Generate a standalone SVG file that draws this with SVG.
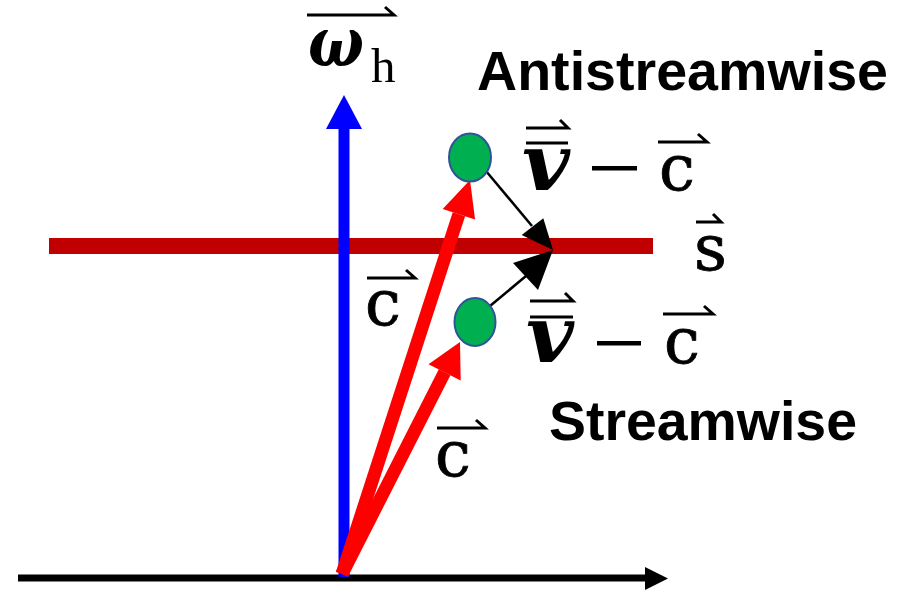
<svg xmlns="http://www.w3.org/2000/svg" width="903" height="591" viewBox="0 0 903 591">
<style>
.lbl{font-family:"Liberation Sans",Arial,sans-serif;font-weight:bold;font-size:55px;fill:#000}
.m{font-family:"DejaVu Serif","Liberation Serif",serif;font-size:64px;fill:#000;stroke:#000;stroke-width:0.8}
.bi{font-family:"DejaVu Serif","Liberation Serif",serif;font-weight:bold;font-style:italic;fill:#000}
.acc{fill:none;stroke:#000;stroke-width:3;stroke-linecap:butt;stroke-linejoin:miter}
.dot{fill:#00B050;stroke:#2F5597;stroke-width:2}
</style>
<rect width="903" height="591" fill="#fff"/>
<g id="axis">
<line x1="18" y1="578" x2="646" y2="578" stroke="#000" stroke-width="7"/>
<polygon points="645,567 668,578.5 645,590" fill="#000"/>
</g>
<g id="s-line">
<rect x="49" y="238" width="604" height="16" fill="#C00000"/>
</g>
<g id="omega-axis">
<line x1="344" y1="577" x2="344" y2="128" stroke="#0000FF" stroke-width="11"/>
<polygon points="344,95 362,129 326,129" fill="#0000FF"/>
</g>
<g id="connectors">
<line x1="342" y1="574" x2="458.9" y2="214.2" stroke="#FF0000" stroke-width="13"/>
<polygon points="470,180 475.1,219.4 442.7,209" fill="#FF0000"/>
<line x1="342" y1="574" x2="444.6" y2="372.3" stroke="#FF0000" stroke-width="13"/>
<polygon points="460,342 460.7,380.4 428.5,364.2" fill="#FF0000"/>
<line x1="486" y1="171" x2="532" y2="226" stroke="#000" stroke-width="2.5"/>
<polygon points="553,250 521.7,235 543.3,218.3" fill="#000"/>
<line x1="490" y1="306" x2="526" y2="276" stroke="#000" stroke-width="2.5"/>
<polygon points="553,250 513,263 538,290" fill="#000"/>
</g>
<g id="upper-particle">
<ellipse cx="470" cy="157.5" rx="21" ry="24" class="dot"/>
</g>
<g id="lower-particle">
<ellipse cx="475" cy="322" rx="20.5" ry="24" class="dot"/>
</g>
<g id="omega-label">
<text x="308" y="66"><tspan class="bi" font-size="70" textLength="56" lengthAdjust="spacingAndGlyphs">ω</tspan><tspan x="371" y="82" font-family="Liberation Serif,serif" font-size="49">h</tspan></text>
<path class="acc" d="M307,15 H394 L385,7"/>
</g>
<g id="antistreamwise-label">
<text x="477" y="90" class="lbl" textLength="411" lengthAdjust="spacingAndGlyphs">Antistreamwise</text>
</g>
<g id="streamwise-label">
<text x="549" y="440" class="lbl" textLength="308" lengthAdjust="spacingAndGlyphs">Streamwise</text>
</g>
<g id="upper-relvel-label">
<text x="522" y="190" class="bi" font-size="78" textLength="48" lengthAdjust="spacingAndGlyphs">v</text>
<path class="acc" d="M526,143 H568" stroke-width="4"/>
<path class="acc" d="M526,128 H568 L560,120"/>
<rect x="592" y="166" width="45" height="4.5" fill="#000"/>
<text x="659" y="190" class="m">c</text>
<path class="acc" d="M658,142 H707 L698,134"/>
</g>
<g id="lower-relvel-label">
<text x="526" y="362" class="bi" font-size="78" textLength="48" lengthAdjust="spacingAndGlyphs">v</text>
<path class="acc" d="M530,317 H573" stroke-width="4"/>
<path class="acc" d="M530,301 H573 L565,293"/>
<rect x="597" y="341" width="44" height="4.5" fill="#000"/>
<text x="664" y="363" class="m">c</text>
<path class="acc" d="M663,314 H713 L704,306"/>
</g>
<g id="s-label">
<text x="694" y="270" class="m" font-size="64">s</text>
<path class="acc" d="M696,222 H721 L713,214"/>
</g>
<g id="c-label-1">
<text x="365" y="325" class="m">c</text>
<path class="acc" d="M367,278 H415 L406,270"/>
</g>
<g id="c-label-2">
<text x="435" y="476" class="m">c</text>
<path class="acc" d="M437,428 H485 L476,420"/>
</g>
</svg>
